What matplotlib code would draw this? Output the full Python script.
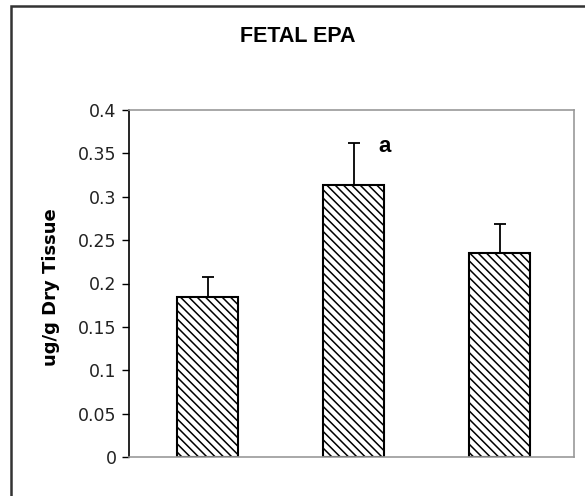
import matplotlib
matplotlib.use("Agg")
import matplotlib.pyplot as plt
import matplotlib.patches as mpatches

# data
groups = ["1", "2", "3"]
means = [0.184, 0.313, 0.235]
errs = [0.024, 0.049, 0.034]
yticks = [0, 0.05, 0.1, 0.15, 0.2, 0.25, 0.3, 0.35, 0.4]
ytick_labels = ["0", "0.05", "0.1", "0.15", "0.2", "0.25", "0.3", "0.35", "0.4"]
sig_label = "a"
sig_group = 1

plt.rcParams['font.family'] = ['Liberation Sans', 'DejaVu Sans']
plt.rcParams['hatch.linewidth'] = 1.1

fig = plt.figure(figsize=(5.85, 4.96), dpi=100)
ax = fig.add_axes([129 / 585, 1 - 457 / 496, 445 / 585, 347 / 496])

x = list(range(len(groups)))
ax.bar(x, means, width=0.42, color='white', edgecolor='black', linewidth=1.5,
       hatch='\\\\\\\\', zorder=2)
ax.errorbar(x, means, yerr=[[0] * len(errs), errs], fmt='none', ecolor='black',
            elinewidth=1.3, capsize=4.5, capthick=1.3, zorder=3)

ax.text(sig_group + 0.21, means[sig_group] + errs[sig_group] - 0.004, sig_label,
        fontsize=16, fontweight='bold', ha='center', va='center')

ax.set_xlim(-0.54, len(groups) - 0.49)
ax.set_ylim(0, 0.4)
ax.set_yticks(yticks)
ax.set_yticklabels(ytick_labels, fontsize=12.5, color='#222222',
                   family=['DejaVu Sans'])
ax.set_xticks([])
ax.tick_params(axis='y', direction='out', length=5, width=1, pad=4)

for side in ['top', 'right', 'bottom']:
    ax.spines[side].set_color('#999999')
    ax.spines[side].set_linewidth(1.2)
ax.spines['left'].set_color('black')
ax.spines['left'].set_linewidth(1.2)

ax.set_ylabel("ug/g Dry Tissue", fontsize=13, fontweight='bold',
              family=['DejaVu Sans'])
ax.yaxis.set_label_coords((51 - 129) / 445, 0.49)
ax.yaxis.label.set_va('center')

fig.text(298 / 585, 1 - 36 / 496, "FETAL EPA", fontsize=15.5, fontweight='bold',
         ha='center', va='center', family=['Liberation Sans'])

# outer chart border
border = mpatches.Rectangle((11 / 585, -0.1), 1.2, 1.1 - 6 / 496, transform=fig.transFigure,
                            fill=False, edgecolor='#333333', linewidth=1.8)
fig.patches.append(border)

fig.savefig("out.png", dpi=100)
